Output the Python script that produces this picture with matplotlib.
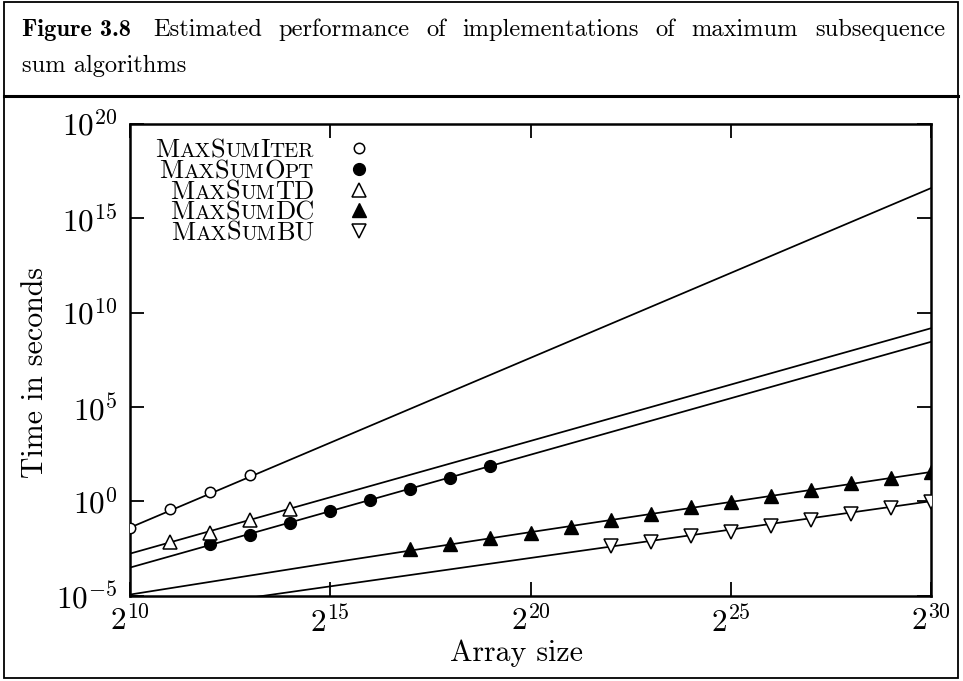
import numpy as np
import matplotlib.pyplot as plt
from matplotlib.patches import Rectangle
from matplotlib.lines import Line2D
from matplotlib.transforms import IdentityTransform

plt.rcParams['mathtext.fontset'] = 'cm'
plt.rcParams['font.family'] = 'cmr10'
plt.rcParams['axes.formatter.use_mathtext'] = True

# measured points: exponent of array size (2^k) and log10 of time in seconds
iter_k = [10, 11, 12, 13]
iter_t = [-1.40, -0.43, 0.49, 1.41]
opt_k = [12, 13, 14, 15, 16, 17, 18, 19]
opt_t = [-2.28, -1.80, -1.18, -0.53, 0.05, 0.63, 1.25, 1.85]
td_k = [11, 12, 13, 14]
td_t = [-2.16, -1.66, -1.01, -0.39]
dc_k = [17, 18, 19, 20, 21, 22, 23, 24, 25, 26, 27, 28, 29, 30]
dc_t = [-2.55, -2.25, -1.95, -1.66, -1.35, -0.99, -0.66, -0.33, -0.02, 0.30, 0.62, 0.95, 1.24, 1.55]
bu_k = [22, 23, 24, 25, 26, 27, 28, 29, 30]
bu_t = [-2.40, -2.15, -1.87, -1.62, -1.33, -1.00, -0.70, -0.37, -0.05]

# estimated curves
iter_fit_k = [10, 30]
iter_fit_t = [-1.40, 16.6]
opt_fit_k = [10, 30]
opt_fit_t = [-3.52, 8.45]
td_fit_k = [10, 30]
td_fit_t = [-2.78, 9.17]
dc_fit_k = [10, 15, 20, 25, 30]
dc_fit_t = [-4.95, -3.27, -1.64, -0.04, 1.55]
bu_fit_k = [10, 30]
bu_fit_t = [-6.02, 0.0]

x_ticks = [10, 15, 20, 25, 30]
y_ticks = [-5, 0, 5, 10, 15, 20]

# small caps labels: (text, big?) pieces
labels = [
    [('M', 1), ('AX', 0), ('S', 1), ('UM', 0), ('I', 1), ('TER', 0)],
    [('M', 1), ('AX', 0), ('S', 1), ('UM', 0), ('O', 1), ('PT', 0)],
    [('M', 1), ('AX', 0), ('S', 1), ('UM', 0), ('TD', 1)],
    [('M', 1), ('AX', 0), ('S', 1), ('UM', 0), ('DC', 1)],
    [('M', 1), ('AX', 0), ('S', 1), ('UM', 0), ('BU', 1)],
]

caption_bold = 'Figure 3.8'
caption_line1 = 'Estimated performance of implementations of maximum subsequence'
caption_line2 = 'sum algorithms'

W, H = 963, 681
fig = plt.figure(figsize=(W / 100, H / 100), dpi=100)
ax = fig.add_axes([130 / W, 1 - 595.5 / H, 801 / W, 471.5 / H])

def p2(k):
    return 2.0 ** np.array(k)

def p10(t):
    return 10.0 ** np.array(t)

lw = 1.25
for k, t in [(iter_fit_k, iter_fit_t), (opt_fit_k, opt_fit_t), (td_fit_k, td_fit_t),
             (dc_fit_k, dc_fit_t), (bu_fit_k, bu_fit_t)]:
    ax.plot(p2(k), p10(t), color='black', lw=lw, zorder=2)

h_iter, = ax.plot(p2(iter_k), p10(iter_t), ls='none', marker='o', ms=7.5, mfc='white', mec='black', mew=1.1, zorder=3)
h_opt, = ax.plot(p2(opt_k), p10(opt_t), ls='none', marker='o', ms=8.5, mfc='black', mec='black', zorder=3)
h_td, = ax.plot(p2(td_k), p10(td_t), ls='none', marker='^', ms=9.5, mfc='white', mec='black', mew=1.1, zorder=3)
h_dc, = ax.plot(p2(dc_k), p10(dc_t), ls='none', marker='^', ms=9.5, mfc='black', mec='black', zorder=3)
h_bu, = ax.plot(p2(bu_k), p10(bu_t), ls='none', marker='v', ms=9.5, mfc='white', mec='black', mew=1.1, zorder=3)

ax.set_xscale('log', base=2)
ax.set_yscale('log')
ax.set_xlim(2.0 ** 10, 2.0 ** 30)
ax.set_ylim(1e-5, 1e20)
ax.set_xticks(p2(x_ticks))
ax.set_xticklabels(['$2^{%d}$' % k for k in x_ticks])
ax.set_yticks(p10(y_ticks))
ax.set_yticklabels(['$10^{%d}$' % k for k in y_ticks])
ax.minorticks_off()
ax.tick_params(direction='in', length=10, width=1.3, top=True, right=True, labelsize=22.5)
ax.tick_params(axis='x', pad=7)
ax.tick_params(axis='y', pad=9)
for s in ax.spines.values():
    s.set_linewidth(1.8)

fig.text(35 / W, 1 - 373 / H, 'Time in seconds', rotation=90, ha='center', va='center', fontsize=21.5)
fig.text(516 / W, 1 - 653 / H, 'Array size', ha='center', va='center', fontsize=21.5)

leg = ax.legend([h_iter, h_opt, h_td, h_dc, h_bu], [''] * 5, loc='upper left',
                bbox_to_anchor=(0.259, 0.984), frameon=False, fontsize=14,
                handlelength=1.2, handletextpad=0, labelspacing=0.14, borderpad=0)

# frames around caption and figure
fig.add_artist(Rectangle((4 / W, 1 - 678 / H), 954 / W, 676 / H, transform=fig.transFigure,
                         fill=False, lw=1.3, ec='black'))
fig.add_artist(Line2D([4 / W, 958 / W], [1 - 96 / H, 1 - 96 / H], transform=fig.transFigure,
                      lw=2.2, color='black'))

fig.canvas.draw()
r = fig.canvas.get_renderer()
ident = IdentityTransform()

# small caps legend labels, right aligned next to the markers
big, small = 19, 15
for hdl, pieces in zip(leg.legend_handles, labels):
    bb = hdl.get_window_extent(r)
    mx = (bb.x0 + bb.x1) / 2
    my = (bb.y0 + bb.y1) / 2
    x = mx - 45
    for txt, isbig in reversed(pieces):
        t = fig.text(x, my - 9, txt, transform=ident, ha='right', va='baseline',
                     fontsize=big if isbig else small)
        x -= t.get_window_extent(r).width

# caption, justified first line
y1 = H - 36
fs_cap = 17.6
tb = fig.text(22, y1, caption_bold, transform=ident, ha='left', va='baseline',
              fontsize=fs_cap, family='cmb10')
words = caption_line1.split()
ws = []
for wd in words:
    t = fig.text(0, y1, wd, transform=ident, ha='left', va='baseline', fontsize=fs_cap)
    ws.append((t, t.get_window_extent(r).width))
x0, x1 = 153, 945
gap = (x1 - x0 - sum(w for _, w in ws)) / (len(ws) - 1)
x = x0
for t, w in ws:
    t.set_x(x)
    x += w + gap
fig.text(22, H - 72, caption_line2, transform=ident, ha='left', va='baseline', fontsize=fs_cap)

fig.savefig('out.png', dpi=100)
